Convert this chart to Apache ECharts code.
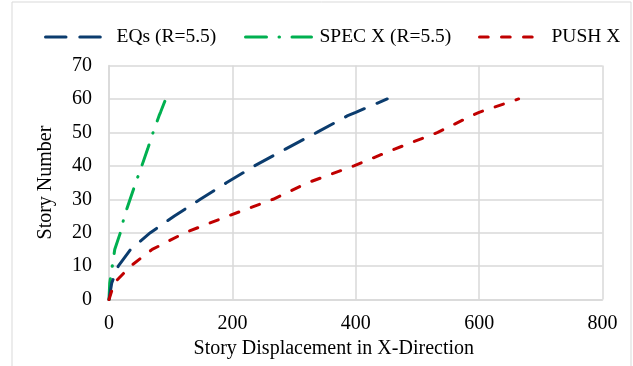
<!DOCTYPE html>
<html>
<head>
<meta charset="utf-8">
<title>Story Displacement in X-Direction</title>
<script src="https://cdn.jsdelivr.net/npm/echarts@6/dist/echarts.min.js"></script>
<style>
  html, body { margin: 0; padding: 0; background: #ffffff; }
  #chart { width: 633px; height: 366px; }
</style>
</head>
<body>
<div id="chart"></div>
<script>
// Story levels and lateral displacement of each response case
const storyLevels = [0, 5, 10, 15, 20, 25, 30, 35, 40, 45, 50, 55, 56, 60];
const eqDisp      = [0, 4.5, 15, 35, 67, 106, 148, 191, 236, 286, 337, 387, 400, 451];
const specDisp    = [0, 1.2, 5.4, 9.3, 18.4, 25, 34.2, 43.4, 53.2, 62.6, 71.5, 81.2, 83.5, 92];
const pushDisp    = [0, 8.5, 35, 70, 123, 193, 266, 323, 397, 463, 533, 588, 600, 664];

const seriesNames = ['EQs (R=5.5)', 'SPEC X (R=5.5)', 'PUSH X'];
const xTicks = [0, 200, 400, 600, 800];
const yTicks = [0, 10, 20, 30, 40, 50, 60, 70];

const serif = '"Liberation Serif", "Times New Roman", serif';

// line looks shared by each series and its legend sample
const lineLooks = [
  { color: '#0B3C6E', width: 3, type: [20.5, 13.8], cap: 'round' },
  { color: '#00B050', width: 3, type: [21, 12.5, 0.5, 12.5], cap: 'round' },
  { color: '#C00000', width: 3, type: [8.7, 13.3], cap: 'round' }
];

function pairs(disp) {
  return disp.map((d, i) => [d, storyLevels[i]]);
}

function legendFor(idx, left, width, gap) {
  return {
    data: [seriesNames[idx]],
    left: left,
    top: 22,
    itemWidth: width,
    itemHeight: 20,
    selectedMode: false,
    itemStyle: { opacity: 0 },
    lineStyle: Object.assign({}, lineLooks[idx]),
    textStyle: {
      fontFamily: serif,
      fontSize: 19.5,
      color: '#000000',
      padding: [0, 0, 0, gap]
    }
  };
}

function lineSeries(idx, disp, z) {
  return {
    name: seriesNames[idx],
    type: 'line',
    data: pairs(disp),
    symbol: 'none',
    lineStyle: Object.assign({}, lineLooks[idx]),
    itemStyle: { color: lineLooks[idx].color },
    z: z
  };
}

const chart = echarts.init(document.getElementById('chart'), null, { renderer: 'canvas' });

chart.setOption({
  animation: false,
  backgroundColor: '#ffffff',
  graphic: [{
    type: 'rect',
    shape: { x: 12, y: 2, width: 619, height: 420 },
    style: { fill: 'none', stroke: '#D9D9D9', lineWidth: 1 },
    silent: true,
    z: -10
  }],
  legend: [
    legendFor(0, 39, 59, 7),
    legendFor(1, 239, 66, 3),
    legendFor(2, 473, 56, 11)
  ],
  grid: { left: 109, right: 30.5, top: 65.5, bottom: 66.4, containLabel: false },
  xAxis: {
    type: 'value',
    min: xTicks[0],
    max: xTicks[xTicks.length - 1],
    interval: xTicks[1] - xTicks[0],
    name: 'Story Displacement in X-Direction',
    nameLocation: 'middle',
    nameGap: 38,
    nameTextStyle: { fontFamily: serif, fontSize: 20, color: '#000000', padding: [0, 44, 0, 0] },
    axisLine: { show: true, lineStyle: { color: '#D9D9D9', width: 1.5 } },
    axisTick: { show: false },
    axisLabel: { fontFamily: serif, fontSize: 20, color: '#000000', margin: 14 },
    splitLine: { show: true, lineStyle: { color: '#D9D9D9', width: 1.5 } }
  },
  yAxis: {
    type: 'value',
    min: yTicks[0],
    max: yTicks[yTicks.length - 1],
    interval: yTicks[1] - yTicks[0],
    name: 'Story Number',
    nameLocation: 'middle',
    nameGap: 53,
    nameTextStyle: { fontFamily: serif, fontSize: 20, color: '#000000' },
    axisLine: { show: true, lineStyle: { color: '#D9D9D9', width: 1.5 } },
    axisTick: { show: false },
    axisLabel: { fontFamily: serif, fontSize: 20, color: '#000000', margin: 17 },
    splitLine: { show: true, lineStyle: { color: '#D9D9D9', width: 1.5 } }
  },
  series: [
    lineSeries(0, eqDisp, 3),
    lineSeries(1, specDisp, 2),
    lineSeries(2, pushDisp, 4)
  ]
});
</script>
</body>
</html>
